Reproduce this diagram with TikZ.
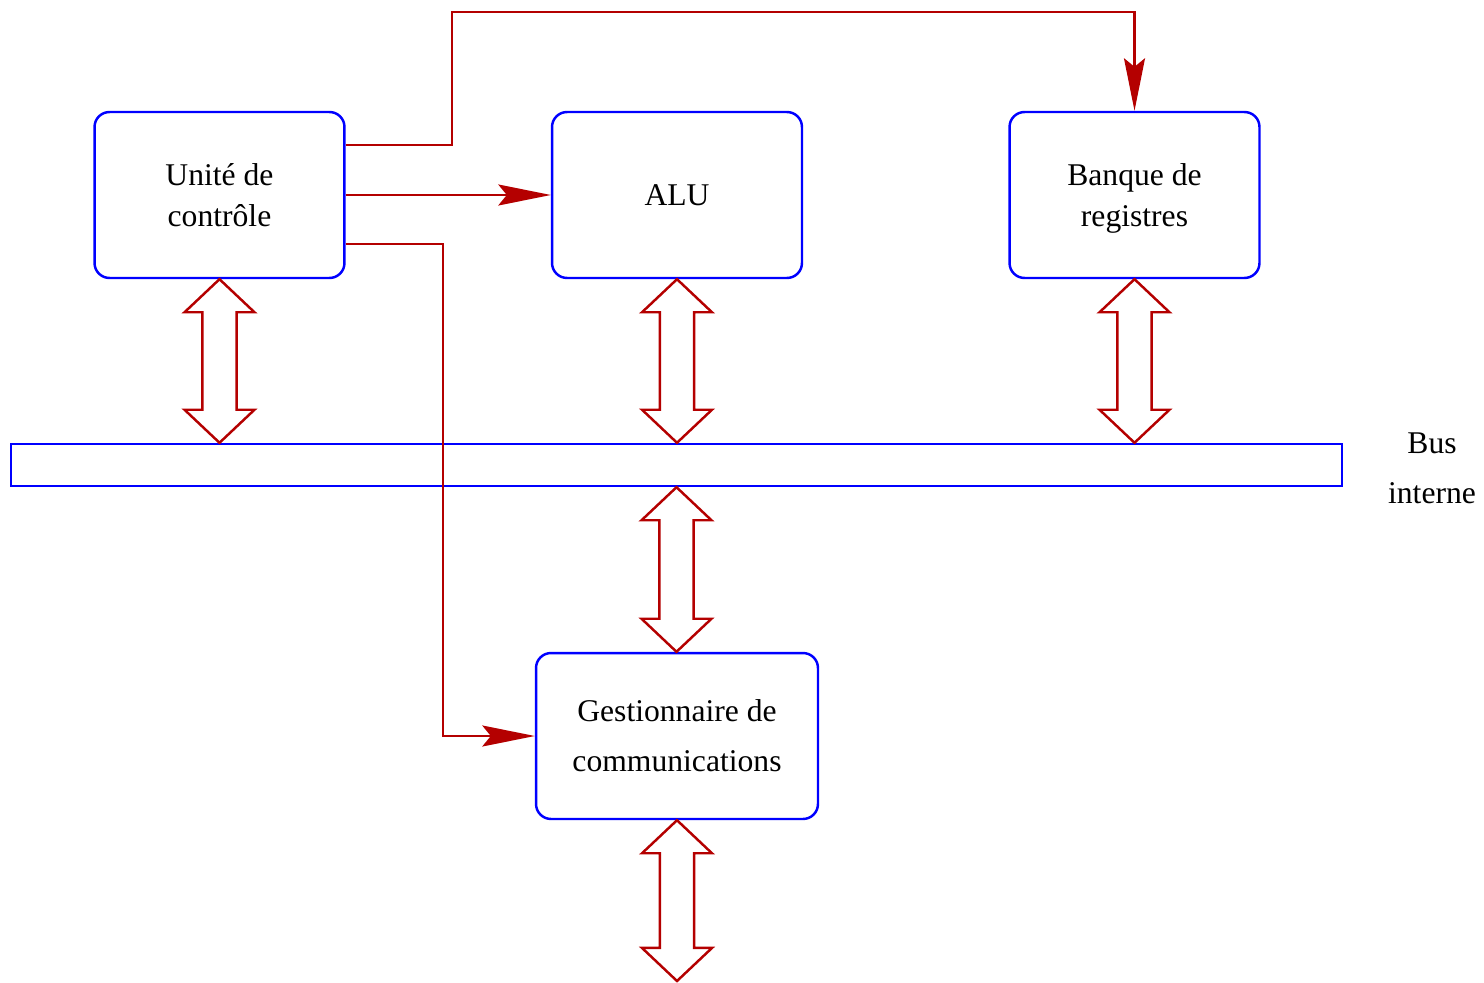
\documentclass[tikz,border=0pt]{standalone}
\usepackage{fontspec}
\setmainfont{Liberation Serif}
\usetikzlibrary{arrows.meta,calc}

\definecolor{boxblue}{RGB}{0,0,255}
\definecolor{sigred}{RGB}{180,0,0}

% hollow double-headed arrow drawn from the first point down to the second
\newcommand\dblarrow[2]{%
  \draw[hollowarr] let \p1=(#1), \p2=(#2) in
    (\x1,\y1) -- (\x1+19.9pt,\y1-18.8pt) -- (\x1+9.7pt,\y1-18.8pt)
    -- (\x1+9.7pt,\y2+18.8pt) -- (\x1+19.9pt,\y2+18.8pt) -- (\x1,\y2)
    -- (\x1-19.9pt,\y2+18.8pt) -- (\x1-9.7pt,\y2+18.8pt)
    -- (\x1-9.7pt,\y1-18.8pt) -- (\x1-19.9pt,\y1-18.8pt) -- cycle;}
% a line of text whose descenders do not count in the box depth
\newcommand\nodepth[1]{\raisebox{0pt}[\height][0pt]{#1}}

\begin{document}
\begin{tikzpicture}[x=0.02cm,y=-0.02cm,
  unit/.style={draw=boxblue, line width=1.4pt, rounded corners=0.3cm,
    minimum width=5cm, minimum height=3.32cm, align=center,
    font=\fontsize{18}{23.3}\selectfont},
  busbar/.style={draw=boxblue, line width=1.4pt,
    minimum width=26.62cm, minimum height=0.84cm},
  ctl/.style={draw=sigred, line width=1.4pt,
    -{Stealth[length=1.05cm, width=0.42cm, inset=0.17cm]}},
  hollowarr/.style={draw=sigred, line width=1.4pt, line join=miter, fill=white},
  label/.style={align=center, font=\fontsize{18}{28.5}\selectfont}]

\useasboundingbox (0,0) rectangle (1484,983);

% functional units
\node[unit] (uc)  at (219.5,195) {Unité de\\contrôle};
\node[unit] (alu) at (677,195)   {ALU};
\node[unit] (rb)  at (1134.5,195) {Banque de\\\nodepth{registres}};
\node[unit, minimum width=5.64cm, font=\fontsize{18}{28.5}\selectfont]
  (gc) at (677,736) {Gestionnaire de\\communications};

% internal bus
\node[busbar] (bus) at (676.5,465) {};
\node[label] (buslbl) at (1432,468) {Bus\\interne};

% external link below the communication manager
\coordinate (ext) at (677,981);

% bus connections
\dblarrow{uc.south}{uc.south |- bus.north}
\dblarrow{alu.south}{alu.south |- bus.north}
\dblarrow{rb.south}{rb.south |- bus.north}
\dblarrow{bus.south}{gc.north}
\dblarrow{gc.south}{ext}

% control signals
\coordinate (over) at (452,12);
\coordinate (down) at (443,736);
\draw[ctl] ([yshift=1cm]uc.east) -| (over) -| (rb.north);
\draw[ctl] (uc.east) -- (alu.west);
\draw[ctl] ([yshift=-0.98cm]uc.east) -| (down) -- (gc.west);

\end{tikzpicture}
\end{document}
